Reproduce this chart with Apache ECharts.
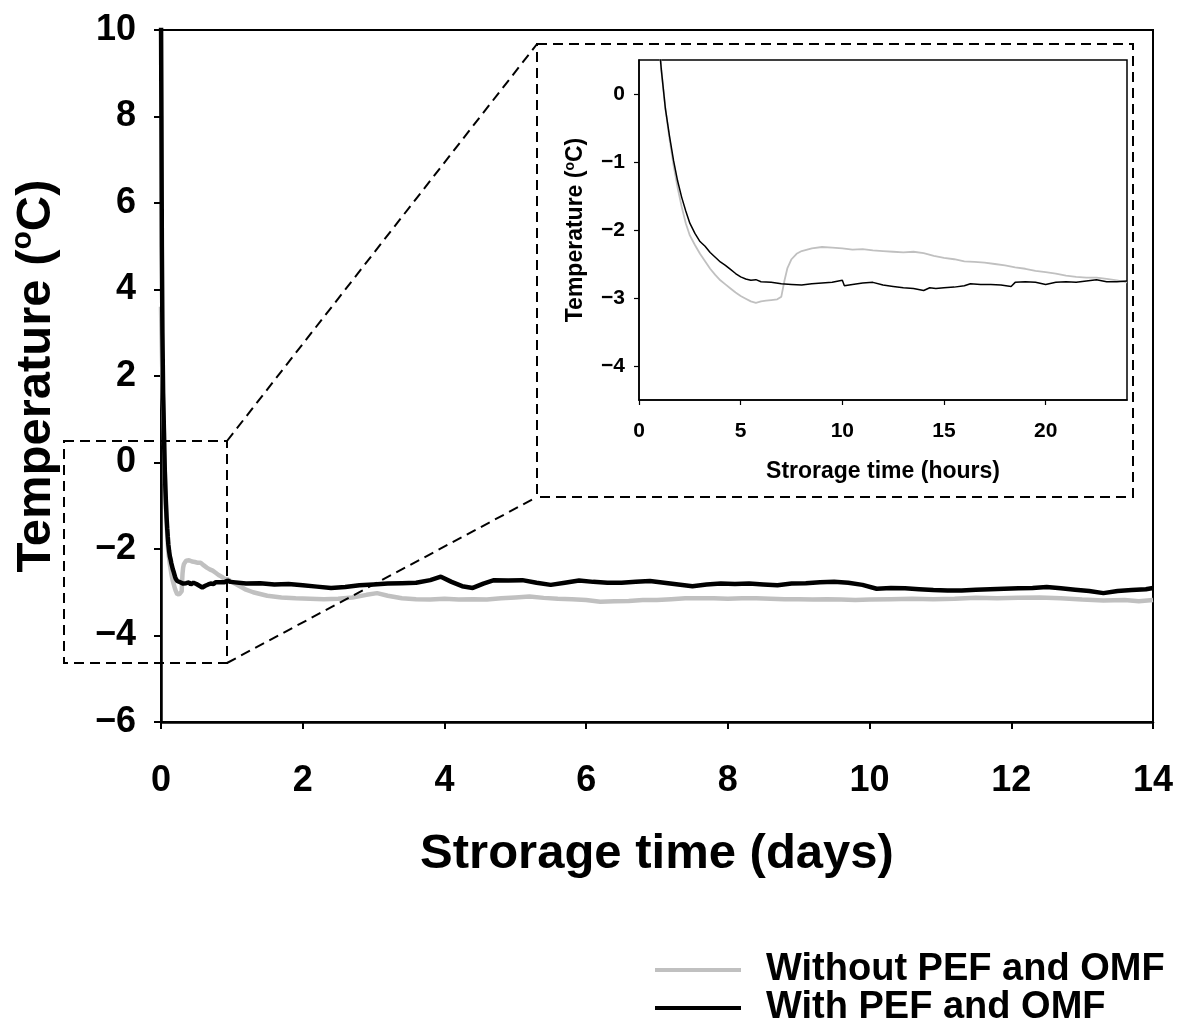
<!DOCTYPE html>
<html>
<head>
<meta charset="utf-8">
<script src="https://cdn.jsdelivr.net/npm/echarts@6/dist/echarts.min.js"></script>
<style>
html,body{margin:0;padding:0;background:#fff;}
#chart{width:1180px;height:1030px;}
</style>
</head>
<body>
<div id="chart"></div>
<script>
// ---------- data ----------
const seriesNames = ['Without PEF and OMF', 'With PEF and OMF'];

// inset: storage time (hours), temperature (°C)
const insetGray = [
  [1.0,0.7],[1.1,0.35],[1.3,-0.22],[1.5,-0.66],[1.7,-1.05],[1.9,-1.38],[2.1,-1.66],[2.3,-1.90],
  [2.5,-2.08],[2.75,-2.22],[3.0,-2.35],[3.25,-2.46],[3.5,-2.57],[3.75,-2.66],[4.0,-2.74],[4.25,-2.80],
  [4.5,-2.86],[4.75,-2.92],[5.0,-2.97],[5.25,-3.01],[5.5,-3.05],[5.75,-3.07],[6.0,-3.05],[6.25,-3.04],
  [6.5,-3.03],[6.8,-3.02],[7.0,-2.98],[7.15,-2.75],[7.3,-2.56],[7.5,-2.43],[7.75,-2.35],[8.0,-2.31],
  [8.5,-2.27],[9.0,-2.25],[9.5,-2.26],[10.0,-2.27],[10.5,-2.29],[11.0,-2.28],[11.5,-2.30],[12.0,-2.31],
  [12.5,-2.32],[13.0,-2.33],[13.5,-2.32],[14.0,-2.34],[14.5,-2.38],[15.0,-2.41],[15.5,-2.43],[16.0,-2.46],
  [16.5,-2.47],[17.0,-2.48],[17.5,-2.50],[18.0,-2.52],[18.5,-2.55],[19.0,-2.57],[19.5,-2.60],[20.0,-2.62],
  [20.5,-2.64],[21.0,-2.67],[21.5,-2.69],[22.0,-2.70],[22.5,-2.70],[23.0,-2.72],[23.5,-2.74],[24.0,-2.77]
];
const insetBlack = [
  [1.0,0.7],[1.1,0.35],[1.3,-0.22],[1.5,-0.62],[1.7,-0.98],[1.9,-1.28],[2.1,-1.52],[2.3,-1.72],
  [2.5,-1.90],[2.75,-2.05],[3.0,-2.17],[3.25,-2.24],[3.5,-2.33],[3.75,-2.40],[4.0,-2.47],[4.25,-2.52],
  [4.5,-2.58],[4.75,-2.64],[5.0,-2.69],[5.25,-2.72],[5.5,-2.74],[5.75,-2.73],[6.0,-2.76],[6.5,-2.77],
  [7.0,-2.79],[7.5,-2.80],[8.0,-2.81],[8.5,-2.79],[9.0,-2.78],[9.5,-2.77],[10.0,-2.74],[10.1,-2.82],
  [10.5,-2.80],[11.0,-2.78],[11.5,-2.77],[12.0,-2.81],[12.5,-2.83],[13.0,-2.85],[13.5,-2.86],[14.0,-2.89],
  [14.3,-2.85],[14.6,-2.86],[15.0,-2.85],[15.5,-2.84],[16.0,-2.82],[16.3,-2.79],[16.8,-2.80],[17.3,-2.80],
  [17.8,-2.81],[18.3,-2.83],[18.5,-2.77],[19.0,-2.76],[19.5,-2.77],[20.0,-2.80],[20.5,-2.77],[21.0,-2.76],
  [21.5,-2.77],[22.0,-2.75],[22.5,-2.73],[23.0,-2.76],[23.5,-2.76],[24.0,-2.75]
];

// main: storage time (days), temperature (°C)
const mainStartGray = [[0,3.6],[0.012,2.6],[0.025,1.6],[0.035,1.0]];
const mainStartBlack = [[0,10.5],[0.006,8.0],[0.012,5.0],[0.02,3.0],[0.03,1.6],[0.038,1.0]];
const mainLateGray = [
  [1.1,-2.85],[1.2,-2.94],[1.3,-3.00],[1.5,-3.08],[1.7,-3.12],[1.9,-3.14],[2.1,-3.15],[2.3,-3.16],
  [2.5,-3.15],[2.7,-3.12],[2.9,-3.06],[3.05,-3.02],[3.2,-3.08],[3.4,-3.14],[3.6,-3.16],[3.8,-3.17],
  [4.0,-3.15],[4.2,-3.17],[4.4,-3.16],[4.6,-3.17],[4.8,-3.14],[5.0,-3.12],[5.2,-3.10],[5.4,-3.13],
  [5.6,-3.15],[5.8,-3.16],[6.0,-3.18],[6.2,-3.22],[6.4,-3.21],[6.6,-3.20],[6.8,-3.18],[7.0,-3.18],
  [7.2,-3.16],[7.4,-3.14],[7.6,-3.14],[7.8,-3.14],[8.0,-3.15],[8.2,-3.14],[8.4,-3.14],[8.6,-3.15],
  [8.8,-3.16],[9.0,-3.16],[9.2,-3.17],[9.4,-3.16],[9.6,-3.17],[9.8,-3.18],[10.0,-3.17],[10.3,-3.16],
  [10.6,-3.15],[10.9,-3.16],[11.2,-3.15],[11.5,-3.13],[11.8,-3.14],[12.1,-3.13],[12.4,-3.12],[12.7,-3.14],
  [13.0,-3.17],[13.3,-3.19],[13.6,-3.18],[13.8,-3.21],[14.0,-3.18]
];
const mainLateBlack = [
  [1.2,-2.80],[1.4,-2.79],[1.6,-2.82],[1.8,-2.81],[2.0,-2.84],[2.2,-2.87],[2.4,-2.90],[2.6,-2.88],
  [2.8,-2.84],[3.0,-2.82],[3.2,-2.80],[3.4,-2.79],[3.6,-2.78],[3.8,-2.72],[3.95,-2.64],[4.1,-2.76],
  [4.25,-2.86],[4.4,-2.90],[4.55,-2.80],[4.7,-2.72],[4.9,-2.73],[5.1,-2.72],[5.3,-2.78],[5.5,-2.83],
  [5.7,-2.78],[5.9,-2.73],[6.1,-2.76],[6.3,-2.78],[6.5,-2.78],[6.7,-2.76],[6.9,-2.74],[7.1,-2.78],
  [7.3,-2.82],[7.5,-2.86],[7.7,-2.82],[7.9,-2.80],[8.1,-2.81],[8.3,-2.80],[8.5,-2.82],[8.7,-2.84],
  [8.9,-2.80],[9.1,-2.79],[9.3,-2.77],[9.5,-2.76],[9.7,-2.78],[9.9,-2.83],[10.1,-2.92],[10.3,-2.90],
  [10.5,-2.91],[10.7,-2.93],[10.9,-2.95],[11.1,-2.96],[11.3,-2.96],[11.5,-2.94],[11.7,-2.93],[11.9,-2.92],
  [12.1,-2.91],[12.3,-2.90],[12.5,-2.88],[12.7,-2.91],[12.9,-2.94],[13.1,-2.97],[13.3,-3.02],[13.5,-2.97],
  [13.7,-2.95],[13.9,-2.93],[14.0,-2.90]
];

const mainXTicks = [0,2,4,6,8,10,12,14];
const mainYTicks = [-6,-4,-2,0,2,4,6,8,10];
const insetXTicks = [0,5,10,15,20];
const insetYTicks = [-4,-3,-2,-1,0];

// ---------- build ----------
const hoursToDays = p => [p[0] / 24, p[1]];
const mainGray = mainStartGray.concat(insetGray.map(hoursToDays), mainLateGray);
const mainBlack = mainStartBlack.concat(insetBlack.map(hoursToDays), mainLateBlack);

const FONT = '"Liberation Sans", Arial, sans-serif';
const minus = v => String(v).replace('-', '\u2212');
const GRAY = '#c0c0c0';

const chart = echarts.init(document.getElementById('chart'), null, {renderer: 'canvas'});
const dash = {fill: 'none', stroke: '#000', lineWidth: 2, lineDash: [10, 6]};

chart.setOption({
  animation: false,
  backgroundColor: '#fff',
  textStyle: {fontFamily: FONT},
  grid: [
    {left: 161, top: 30, width: 992, height: 692, show: true, borderColor: '#000', borderWidth: 2, backgroundColor: 'transparent'},
    {left: 639, top: 60, width: 488, height: 340, show: true, borderColor: '#000', borderWidth: 1.5, backgroundColor: '#fff'}
  ],
  xAxis: [
    {
      gridIndex: 0, type: 'value', min: mainXTicks[0], max: mainXTicks[mainXTicks.length - 1], interval: 2,
      axisLine: {onZero: false, lineStyle: {color: '#000', width: 2.5}},
      axisTick: {length: 7, lineStyle: {color: '#000', width: 2}},
      splitLine: {show: false},
      axisLabel: {fontSize: 36, fontWeight: 'bold', color: '#000', margin: 41, fontFamily: FONT},
      name: 'Strorage time (days)', nameLocation: 'middle', nameGap: 108,
      nameTextStyle: {fontSize: 49, fontWeight: 'bold', color: '#000', fontFamily: FONT}
    },
    {
      gridIndex: 1, type: 'value', min: 0, max: 24,
      axisLine: {onZero: false, lineStyle: {color: '#000', width: 1.5}},
      axisTick: {length: 5, customValues: insetXTicks, lineStyle: {color: '#000', width: 1.2}},
      splitLine: {show: false},
      axisLabel: {customValues: insetXTicks, fontSize: 21, fontWeight: 'bold', color: '#000', margin: 21, fontFamily: FONT},
      name: 'Strorage time (hours)', nameLocation: 'middle', nameGap: 60,
      nameTextStyle: {fontSize: 23, fontWeight: 'bold', color: '#000', fontFamily: FONT}
    }
  ],
  yAxis: [
    {
      gridIndex: 0, type: 'value', min: mainYTicks[0], max: mainYTicks[mainYTicks.length - 1], interval: 2,
      axisLine: {show: true, onZero: false, lineStyle: {color: '#000', width: 2.5}},
      axisTick: {show: true, length: 7, lineStyle: {color: '#000', width: 2}},
      splitLine: {show: false},
      axisLabel: {fontSize: 36, fontWeight: 'bold', color: '#000', margin: 25, fontFamily: FONT, formatter: minus},
      name: 'Temperature ({s|o}C)', nameLocation: 'middle', nameGap: 97,
      nameTextStyle: {fontSize: 49, fontWeight: 'bold', color: '#000', fontFamily: FONT,
        rich: {s: {fontSize: 30, fontWeight: 'bold', color: '#000', fontFamily: FONT, padding: [0, 0, 26, 0]}}}
    },
    {
      gridIndex: 1, type: 'value', min: -4.5, max: 0.5,
      axisLine: {show: true, onZero: false, lineStyle: {color: '#000', width: 1.5}},
      axisTick: {show: true, length: 5, customValues: insetYTicks, lineStyle: {color: '#000', width: 1.2}},
      splitLine: {show: false},
      axisLabel: {customValues: insetYTicks, fontSize: 21, fontWeight: 'bold', color: '#000', margin: 14, fontFamily: FONT, formatter: minus},
      name: 'Temperature ({s|o}C)', nameLocation: 'middle', nameGap: 50,
      nameTextStyle: {fontSize: 23, fontWeight: 'bold', color: '#000', fontFamily: FONT,
        rich: {s: {fontSize: 14, fontWeight: 'bold', color: '#000', fontFamily: FONT, padding: [0, 0, 12, 0]}}}
    }
  ],
  legend: {
    orient: 'vertical', left: 650, top: 946, height: 120, itemWidth: 86, itemHeight: 4, itemGap: 0,
    icon: 'rect',
    data: seriesNames,
    textStyle: {fontSize: 38, lineHeight: 37, fontWeight: 'bold', color: '#000', fontFamily: FONT, padding: [0, 0, 0, 20]}
  },
  series: [
    {name: seriesNames[0], type: 'line', xAxisIndex: 0, yAxisIndex: 0, data: mainGray, symbol: 'none', showSymbol: false,
      lineStyle: {color: GRAY, width: 4.5}, itemStyle: {color: GRAY}, z: 2},
    {name: seriesNames[1], type: 'line', xAxisIndex: 0, yAxisIndex: 0, data: mainBlack, symbol: 'none', showSymbol: false,
      lineStyle: {color: '#000', width: 4.5}, itemStyle: {color: '#000'}, z: 3},
    {name: seriesNames[0], type: 'line', xAxisIndex: 1, yAxisIndex: 1, data: insetGray, symbol: 'none', showSymbol: false,
      lineStyle: {color: GRAY, width: 1.8}, itemStyle: {color: GRAY}, z: 4},
    {name: seriesNames[1], type: 'line', xAxisIndex: 1, yAxisIndex: 1, data: insetBlack, symbol: 'none', showSymbol: false,
      lineStyle: {color: '#000', width: 1.5}, itemStyle: {color: '#000'}, z: 5}
  ],
  graphic: [
    {type: 'rect', shape: {x: 64, y: 441, width: 163, height: 222}, style: dash, z: 10},
    {type: 'rect', shape: {x: 537, y: 44, width: 596, height: 453}, style: dash, z: 10},
    {type: 'line', shape: {x1: 227, y1: 441, x2: 537, y2: 44}, style: dash, z: 10},
    {type: 'line', shape: {x1: 227, y1: 663, x2: 537, y2: 497}, style: dash, z: 10}
  ]
});
</script>
</body>
</html>
